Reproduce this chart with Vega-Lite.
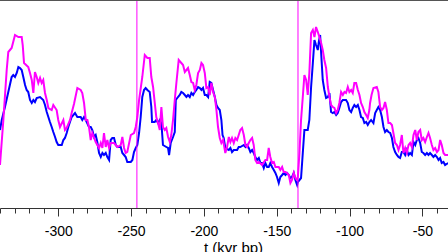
{
  "$schema": "https://vega.github.io/schema/vega-lite/v6.json",
  "width": 448,
  "height": 208,
  "autosize": {"type": "none"},
  "padding": {"left": 0, "top": 0, "right": 0, "bottom": 44},
  "config": {"view": {"stroke": null}, "font": "Liberation Sans"},
  "datasets": {
    "magenta": [
      {"t":-340.0,"v":43},{"t":-337.7,"v":88},{"t":-335.4,"v":138},{"t":-334.3,"v":156},{"t":-332.0,"v":160},{"t":-329.7,"v":173},{"t":-327.4,"v":171},{"t":-325.1,"v":171},{"t":-324.4,"v":163},{"t":-323.5,"v":145},{"t":-320.6,"v":141},{"t":-319.4,"v":135},{"t":-318.2,"v":128},{"t":-317.1,"v":115},{"t":-316.0,"v":136},{"t":-314.8,"v":131},{"t":-313.7,"v":125},{"t":-312.5,"v":130},{"t":-311.4,"v":125},{"t":-310.3,"v":128},{"t":-309.1,"v":115},{"t":-307.9,"v":108},{"t":-306.8,"v":100},{"t":-304.5,"v":98},{"t":-303.4,"v":103},{"t":-301.1,"v":98},{"t":-300.0,"v":88},{"t":-298.8,"v":81},{"t":-296.5,"v":88},{"t":-295.4,"v":78},{"t":-294.2,"v":80},{"t":-291.9,"v":88},{"t":-290.8,"v":95},{"t":-289.2,"v":104},{"t":-286.9,"v":120},{"t":-284.6,"v":118},{"t":-283.5,"v":115},{"t":-282.3,"v":105},{"t":-281.1,"v":88},{"t":-280.0,"v":88},{"t":-278.9,"v":81},{"t":-277.7,"v":68},{"t":-276.6,"v":75},{"t":-274.3,"v":66},{"t":-272.0,"v":60},{"t":-270.8,"v":65},{"t":-269.7,"v":60},{"t":-268.6,"v":75},{"t":-267.4,"v":61},{"t":-266.3,"v":68},{"t":-265.1,"v":60},{"t":-264.0,"v":65},{"t":-261.7,"v":65},{"t":-259.4,"v":61},{"t":-257.1,"v":63},{"t":-256.0,"v":71},{"t":-254.8,"v":60},{"t":-253.7,"v":55},{"t":-252.6,"v":56},{"t":-250.2,"v":73},{"t":-248.0,"v":75},{"t":-246.8,"v":81},{"t":-245.7,"v":91},{"t":-244.5,"v":108},{"t":-242.3,"v":131},{"t":-240.6,"v":153},{"t":-238.8,"v":150},{"t":-237.2,"v":150},{"t":-236.1,"v":131},{"t":-234.9,"v":121},{"t":-233.8,"v":106},{"t":-232.7,"v":91},{"t":-231.5,"v":85},{"t":-230.3,"v":78},{"t":-229.2,"v":101},{"t":-228.1,"v":81},{"t":-226.9,"v":78},{"t":-225.8,"v":80},{"t":-224.6,"v":71},{"t":-223.4,"v":66},{"t":-222.4,"v":73},{"t":-221.2,"v":88},{"t":-220.0,"v":108},{"t":-218.9,"v":125},{"t":-217.3,"v":148},{"t":-215.5,"v":145},{"t":-214.3,"v":143},{"t":-213.1,"v":136},{"t":-212.0,"v":138},{"t":-210.9,"v":140},{"t":-209.7,"v":133},{"t":-208.6,"v":126},{"t":-207.4,"v":125},{"t":-206.3,"v":118},{"t":-205.2,"v":123},{"t":-204.0,"v":135},{"t":-202.8,"v":138},{"t":-201.7,"v":145},{"t":-200.6,"v":143},{"t":-199.4,"v":135},{"t":-198.3,"v":120},{"t":-197.1,"v":121},{"t":-196.0,"v":113},{"t":-194.9,"v":125},{"t":-193.7,"v":116},{"t":-192.5,"v":111},{"t":-191.4,"v":98},{"t":-190.3,"v":81},{"t":-189.1,"v":70},{"t":-188.0,"v":65},{"t":-186.8,"v":68},{"t":-185.3,"v":55},{"t":-184.1,"v":61},{"t":-182.9,"v":71},{"t":-181.8,"v":66},{"t":-180.7,"v":70},{"t":-179.5,"v":65},{"t":-178.4,"v":70},{"t":-177.2,"v":68},{"t":-176.1,"v":73},{"t":-175.0,"v":78},{"t":-173.8,"v":80},{"t":-172.6,"v":73},{"t":-171.5,"v":63},{"t":-170.4,"v":61},{"t":-169.2,"v":65},{"t":-168.1,"v":68},{"t":-166.9,"v":70},{"t":-165.8,"v":63},{"t":-164.7,"v":48},{"t":-163.5,"v":45},{"t":-162.3,"v":46},{"t":-160.1,"v":43},{"t":-157.8,"v":48},{"t":-156.6,"v":48},{"t":-155.5,"v":60},{"t":-154.4,"v":51},{"t":-153.2,"v":45},{"t":-152.0,"v":46},{"t":-150.9,"v":41},{"t":-148.6,"v":41},{"t":-147.5,"v":38},{"t":-146.3,"v":41},{"t":-145.2,"v":36},{"t":-144.0,"v":36},{"t":-142.9,"v":35},{"t":-141.7,"v":33},{"t":-140.6,"v":25},{"t":-139.5,"v":28},{"t":-138.3,"v":35},{"t":-137.2,"v":30},{"t":-136.0,"v":28},{"t":-135.5,"v":31},{"t":-134.4,"v":55},{"t":-133.3,"v":88},{"t":-132.1,"v":111},{"t":-131.0,"v":133},{"t":-129.8,"v":128},{"t":-128.7,"v":113},{"t":-127.6,"v":135},{"t":-126.4,"v":175},{"t":-125.2,"v":178},{"t":-124.1,"v":171},{"t":-123.0,"v":181},{"t":-121.8,"v":176},{"t":-120.7,"v":171},{"t":-119.5,"v":165},{"t":-118.4,"v":158},{"t":-117.3,"v":148},{"t":-116.1,"v":140},{"t":-114.9,"v":121},{"t":-113.8,"v":111},{"t":-112.7,"v":103},{"t":-111.5,"v":101},{"t":-110.4,"v":100},{"t":-109.2,"v":95},{"t":-108.1,"v":98},{"t":-107.0,"v":105},{"t":-105.8,"v":116},{"t":-104.6,"v":113},{"t":-103.5,"v":116},{"t":-102.4,"v":115},{"t":-101.2,"v":121},{"t":-100.1,"v":116},{"t":-98.9,"v":118},{"t":-97.8,"v":115},{"t":-96.7,"v":125},{"t":-95.5,"v":125},{"t":-94.3,"v":118},{"t":-93.2,"v":113},{"t":-92.1,"v":105},{"t":-90.9,"v":101},{"t":-89.8,"v":96},{"t":-88.6,"v":93},{"t":-87.5,"v":90},{"t":-86.4,"v":98},{"t":-85.9,"v":105},{"t":-84.9,"v":113},{"t":-83.6,"v":120},{"t":-81.3,"v":121},{"t":-80.2,"v":116},{"t":-79.0,"v":101},{"t":-77.8,"v":98},{"t":-76.7,"v":100},{"t":-75.6,"v":106},{"t":-74.4,"v":98},{"t":-73.3,"v":85},{"t":-72.1,"v":85},{"t":-70.9,"v":83},{"t":-69.9,"v":75},{"t":-68.7,"v":65},{"t":-67.5,"v":63},{"t":-66.4,"v":58},{"t":-65.3,"v":63},{"t":-64.1,"v":73},{"t":-63.0,"v":55},{"t":-61.8,"v":60},{"t":-60.7,"v":55},{"t":-59.5,"v":63},{"t":-58.4,"v":65},{"t":-57.2,"v":61},{"t":-56.1,"v":73},{"t":-54.9,"v":78},{"t":-53.8,"v":68},{"t":-52.7,"v":76},{"t":-51.5,"v":78},{"t":-50.4,"v":68},{"t":-49.3,"v":70},{"t":-48.1,"v":66},{"t":-46.9,"v":71},{"t":-45.8,"v":75},{"t":-44.7,"v":70},{"t":-43.5,"v":63},{"t":-42.4,"v":58},{"t":-41.2,"v":60},{"t":-40.0,"v":56},{"t":-38.9,"v":58},{"t":-37.8,"v":68},{"t":-36.7,"v":63},{"t":-35.5,"v":55},{"t":-34.4,"v":53},{"t":-32.3,"v":53}
    ],
    "blue": [
      {"t":-340.0,"v":78},{"t":-338.8,"v":88},{"t":-336.6,"v":101},{"t":-334.3,"v":116},{"t":-332.0,"v":131},{"t":-330.9,"v":133},{"t":-329.7,"v":131},{"t":-328.5,"v":135},{"t":-327.4,"v":141},{"t":-326.3,"v":140},{"t":-325.1,"v":138},{"t":-324.0,"v":131},{"t":-322.8,"v":123},{"t":-321.7,"v":118},{"t":-320.6,"v":116},{"t":-319.4,"v":108},{"t":-318.2,"v":105},{"t":-317.1,"v":108},{"t":-316.0,"v":106},{"t":-314.8,"v":110},{"t":-312.5,"v":111},{"t":-310.3,"v":108},{"t":-309.1,"v":103},{"t":-307.9,"v":96},{"t":-306.8,"v":91},{"t":-305.7,"v":86},{"t":-304.5,"v":81},{"t":-303.4,"v":76},{"t":-302.2,"v":71},{"t":-301.1,"v":66},{"t":-300.0,"v":63},{"t":-297.6,"v":63},{"t":-296.5,"v":68},{"t":-295.4,"v":70},{"t":-294.2,"v":75},{"t":-293.1,"v":81},{"t":-290.8,"v":91},{"t":-288.5,"v":95},{"t":-286.9,"v":91},{"t":-284.6,"v":91},{"t":-283.5,"v":88},{"t":-282.3,"v":91},{"t":-281.1,"v":88},{"t":-278.9,"v":81},{"t":-277.7,"v":81},{"t":-276.6,"v":78},{"t":-275.4,"v":71},{"t":-274.3,"v":73},{"t":-273.2,"v":66},{"t":-272.0,"v":55},{"t":-270.8,"v":51},{"t":-269.7,"v":55},{"t":-268.6,"v":53},{"t":-267.4,"v":55},{"t":-266.3,"v":51},{"t":-265.1,"v":48},{"t":-264.0,"v":68},{"t":-262.9,"v":70},{"t":-261.7,"v":70},{"t":-260.5,"v":63},{"t":-259.4,"v":61},{"t":-257.1,"v":61},{"t":-256.0,"v":55},{"t":-254.8,"v":53},{"t":-253.7,"v":51},{"t":-252.6,"v":46},{"t":-250.2,"v":46},{"t":-249.1,"v":48},{"t":-248.0,"v":56},{"t":-246.8,"v":60},{"t":-245.7,"v":63},{"t":-244.5,"v":75},{"t":-243.4,"v":91},{"t":-242.3,"v":111},{"t":-241.1,"v":118},{"t":-240.0,"v":120},{"t":-238.8,"v":118},{"t":-237.2,"v":116},{"t":-236.1,"v":101},{"t":-235.6,"v":86},{"t":-233.8,"v":86},{"t":-232.7,"v":88},{"t":-231.5,"v":85},{"t":-230.3,"v":88},{"t":-229.2,"v":85},{"t":-228.1,"v":63},{"t":-225.8,"v":61},{"t":-224.6,"v":60},{"t":-223.9,"v":53},{"t":-222.8,"v":65},{"t":-221.2,"v":71},{"t":-220.0,"v":76},{"t":-219.3,"v":108},{"t":-217.8,"v":111},{"t":-216.6,"v":113},{"t":-215.5,"v":116},{"t":-214.3,"v":115},{"t":-213.1,"v":113},{"t":-212.0,"v":111},{"t":-210.9,"v":113},{"t":-209.7,"v":111},{"t":-208.6,"v":115},{"t":-207.4,"v":113},{"t":-206.3,"v":116},{"t":-205.2,"v":118},{"t":-204.0,"v":121},{"t":-202.8,"v":120},{"t":-201.7,"v":118},{"t":-200.6,"v":120},{"t":-199.4,"v":113},{"t":-198.3,"v":113},{"t":-197.1,"v":111},{"t":-196.0,"v":126},{"t":-194.9,"v":125},{"t":-193.7,"v":118},{"t":-192.5,"v":111},{"t":-191.4,"v":103},{"t":-190.3,"v":100},{"t":-189.1,"v":98},{"t":-188.0,"v":88},{"t":-187.2,"v":73},{"t":-186.4,"v":70},{"t":-185.3,"v":60},{"t":-182.9,"v":58},{"t":-181.8,"v":60},{"t":-180.7,"v":56},{"t":-179.5,"v":58},{"t":-177.2,"v":58},{"t":-176.1,"v":61},{"t":-175.0,"v":61},{"t":-172.6,"v":63},{"t":-171.5,"v":61},{"t":-170.4,"v":63},{"t":-169.2,"v":60},{"t":-168.1,"v":56},{"t":-166.9,"v":58},{"t":-165.8,"v":55},{"t":-164.7,"v":51},{"t":-163.5,"v":48},{"t":-162.3,"v":50},{"t":-161.2,"v":45},{"t":-160.1,"v":45},{"t":-158.9,"v":40},{"t":-157.8,"v":45},{"t":-156.6,"v":41},{"t":-155.5,"v":41},{"t":-154.4,"v":45},{"t":-153.2,"v":41},{"t":-152.0,"v":38},{"t":-150.9,"v":35},{"t":-149.8,"v":31},{"t":-148.6,"v":25},{"t":-147.5,"v":31},{"t":-146.3,"v":33},{"t":-145.2,"v":35},{"t":-144.0,"v":33},{"t":-142.9,"v":35},{"t":-141.7,"v":33},{"t":-140.6,"v":30},{"t":-139.5,"v":31},{"t":-138.3,"v":35},{"t":-137.2,"v":28},{"t":-136.0,"v":23},{"t":-135.5,"v":26},{"t":-133.3,"v":30},{"t":-132.1,"v":55},{"t":-131.0,"v":78},{"t":-128.7,"v":78},{"t":-127.6,"v":88},{"t":-126.4,"v":121},{"t":-125.2,"v":145},{"t":-124.1,"v":168},{"t":-123.0,"v":163},{"t":-121.8,"v":158},{"t":-121.1,"v":166},{"t":-120.2,"v":173},{"t":-119.5,"v":155},{"t":-118.4,"v":128},{"t":-117.3,"v":118},{"t":-116.1,"v":110},{"t":-114.9,"v":111},{"t":-113.8,"v":115},{"t":-112.7,"v":96},{"t":-111.5,"v":95},{"t":-110.4,"v":96},{"t":-109.2,"v":93},{"t":-108.1,"v":95},{"t":-107.0,"v":100},{"t":-105.8,"v":106},{"t":-104.6,"v":108},{"t":-102.4,"v":108},{"t":-101.2,"v":105},{"t":-100.1,"v":98},{"t":-98.9,"v":96},{"t":-97.8,"v":100},{"t":-96.7,"v":103},{"t":-95.5,"v":101},{"t":-94.3,"v":103},{"t":-93.2,"v":98},{"t":-92.1,"v":91},{"t":-90.9,"v":90},{"t":-89.8,"v":85},{"t":-88.6,"v":86},{"t":-87.5,"v":83},{"t":-86.4,"v":86},{"t":-85.2,"v":88},{"t":-83.6,"v":85},{"t":-82.4,"v":95},{"t":-81.3,"v":98},{"t":-80.2,"v":101},{"t":-79.0,"v":98},{"t":-77.8,"v":91},{"t":-76.7,"v":81},{"t":-75.6,"v":76},{"t":-74.4,"v":78},{"t":-73.3,"v":76},{"t":-72.1,"v":75},{"t":-70.9,"v":70},{"t":-69.9,"v":61},{"t":-68.7,"v":56},{"t":-67.5,"v":53},{"t":-66.4,"v":51},{"t":-65.3,"v":50},{"t":-64.1,"v":56},{"t":-63.0,"v":56},{"t":-61.8,"v":53},{"t":-60.7,"v":58},{"t":-59.5,"v":53},{"t":-58.4,"v":55},{"t":-57.2,"v":53},{"t":-56.1,"v":66},{"t":-54.9,"v":63},{"t":-53.8,"v":68},{"t":-52.7,"v":70},{"t":-51.5,"v":65},{"t":-50.4,"v":56},{"t":-49.3,"v":55},{"t":-48.1,"v":53},{"t":-46.9,"v":55},{"t":-45.8,"v":53},{"t":-44.7,"v":55},{"t":-43.5,"v":53},{"t":-42.4,"v":51},{"t":-41.2,"v":53},{"t":-40.0,"v":51},{"t":-38.9,"v":48},{"t":-37.8,"v":50},{"t":-36.7,"v":45},{"t":-35.5,"v":46},{"t":-34.4,"v":43},{"t":-32.3,"v":45}
    ],
    "markers": [{"t": -246}, {"t": -135.4}]
  },
  "layer": [
    {
      "data": {"name": "blue"},
      "mark": {"type": "line", "color": "#0000ff", "strokeWidth": 2, "clip": true},
      "encoding": {
        "x": {"field": "t", "type": "quantitative", "scale": {"domain": [-340, -32.4], "nice": false, "zero": false},
          "title": "t (kyr bp)",
          "axis": {
            "values": [-340,-330,-320,-310,-300,-290,-280,-270,-260,-250,-240,-230,-220,-210,-200,-190,-180,-170,-160,-150,-140,-130,-120,-110,-100,-90,-80,-70,-60,-50,-40],
            "tickCount": 100,
            "labelExpr": "datum.value % 50 === 0 ? '-' + abs(datum.value) : ''",
            "tickSize": {"condition": {"test": "datum.value % 50 === 0", "value": 8}, "value": 5},
            "tickColor": "#333333", "domainColor": "#333333", "tickWidth": 1, "domainWidth": 1,
            "labelFontSize": 14, "labelColor": "#000000", "labelPadding": 8, "labelFlush": false, "labelOverlap": false,
            "titleFontSize": 15, "titleFontWeight": "normal", "titleColor": "#000000", "titlePadding": 2, "titleX": 233, "grid": false
          }},
        "y": {"field": "v", "type": "quantitative", "scale": {"domain": [0, 208], "nice": false, "zero": false}, "axis": null}
      }
    },
    {
      "data": {"name": "magenta"},
      "mark": {"type": "line", "color": "#ff00ff", "strokeWidth": 2, "clip": true},
      "encoding": {
        "x": {"field": "t", "type": "quantitative"},
        "y": {"field": "v", "type": "quantitative"}
      }
    },
    {
      "data": {"name": "markers"},
      "mark": {"type": "rule", "color": "#ff00ff", "strokeWidth": 1},
      "encoding": {"x": {"field": "t", "type": "quantitative"}}
    },
    {
      "data": {"values": [{"top": 208}]},
      "mark": {"type": "rule", "color": "#555555", "strokeWidth": 2},
      "encoding": {"y": {"field": "top", "type": "quantitative"}}
    }
  ]
}
